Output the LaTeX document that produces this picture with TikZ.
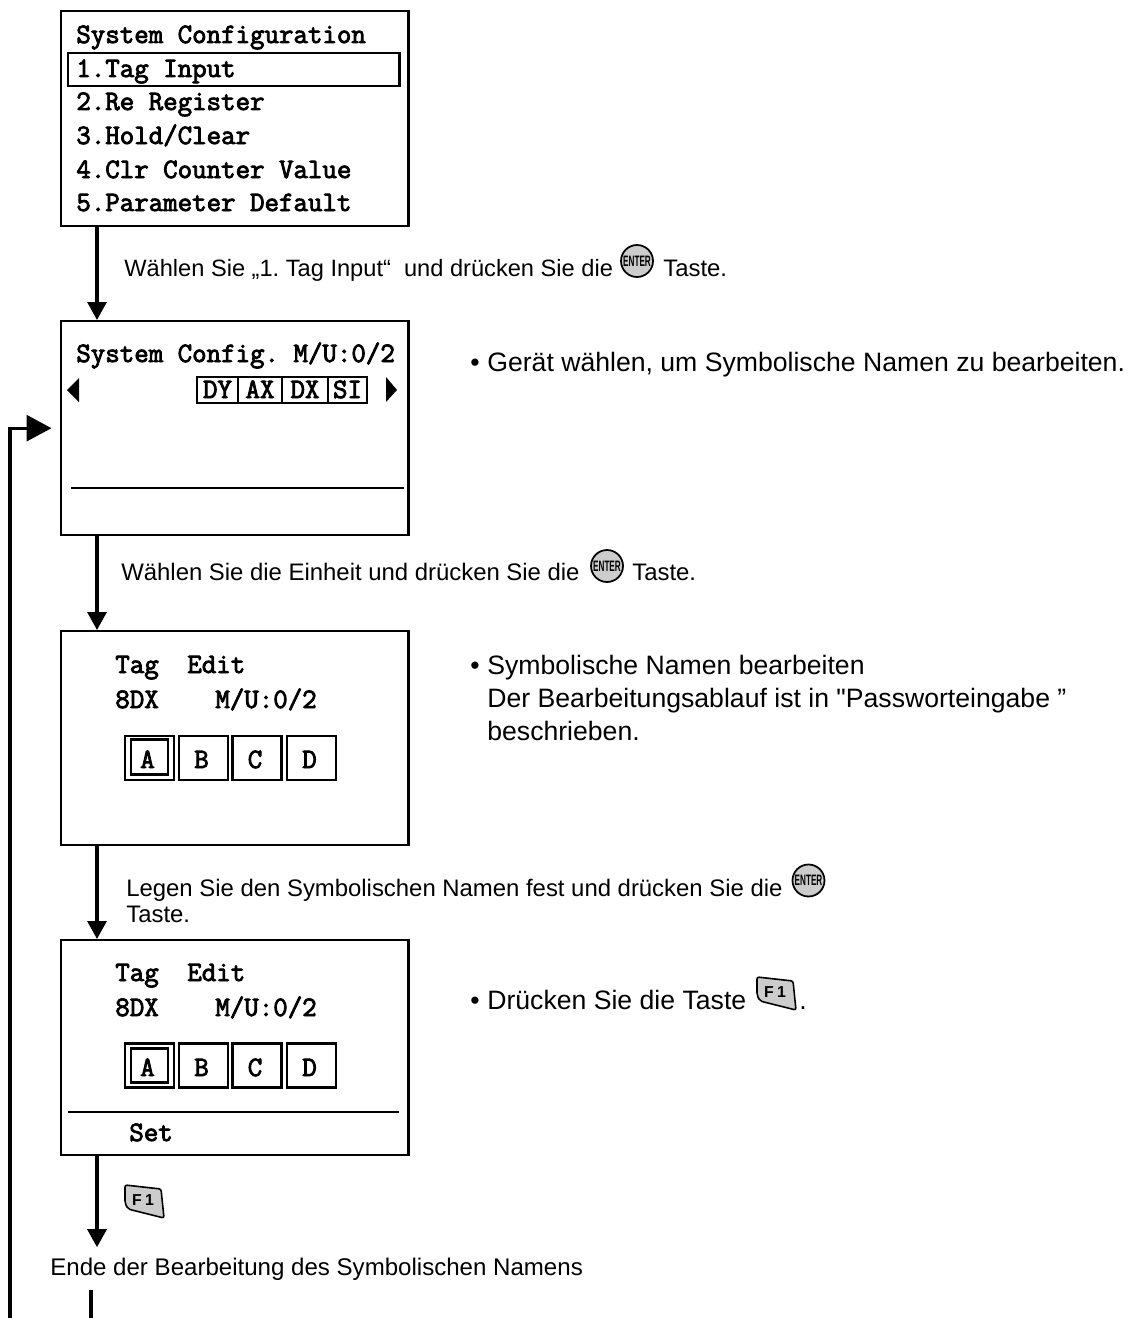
\documentclass[tikz,border=0pt]{standalone}
\usepackage{fontspec}
\setmainfont{Liberation Sans}
\newfontfamily\straightfont{Liberation Sans}
\newfontfamily\lcdfamily{Latin Modern Mono}[FakeBold=3]
\frenchspacing
\usetikzlibrary{positioning,arrows.meta,calc}
\newcommand{\entersign}{\scalebox{0.54}[1]{\fontsize{8.6}{9}\selectfont\bfseries ENTER}}
\newcommand{\lcdfont}{\fontsize{16}{18}\selectfont\lcdfamily}
\tikzset{
  screen/.style={draw,line width=1.35pt,anchor=north west,minimum width=6.96cm,inner sep=0pt},
  lcd/.style={anchor=base west,inner sep=0pt,font=\lcdfont},
  cellchar/.style={inner sep=0pt,font=\lcdfont},
  softkey/.style={draw,line width=1.2pt,minimum width=0.98cm,minimum height=0.88cm,inner sep=0pt},
  tabcell/.style={draw,line width=0.6pt,minimum height=0.52cm,inner sep=0pt},
  divider/.style={line width=1.2pt},
  flow/.style={line width=1.8pt,-{Triangle[length=0.36cm,width=0.38cm]}},
  flowback/.style={line width=1.8pt,-{Triangle[length=0.5cm,width=0.52cm]},shorten >=0.16cm},
  hint/.style={anchor=base west,inner sep=0pt,font=\fontsize{13.6}{15}\selectfont},
  note/.style={anchor=base west,inner sep=0pt,font=\fontsize{15.15}{18.7}\selectfont},
  enterkey/.style={circle,draw,line width=1pt,fill=black!20,inner sep=0pt,minimum size=0.64cm},
  fkey/.pic={
    \draw[line width=0.9pt,rounded corners=1.2pt,fill=black!20] (-19,-16) -- (17,-12) -- (20,17) -- (-16,8) -- (-19,2) -- cycle;
    \node[font=\fontsize{9}{10}\selectfont\bfseries,inner sep=0pt] (-name) at (-1,-1) {F\hspace{2pt}1};
  }
}
\begin{document}
\begin{tikzpicture}[x=0.02cm,y=-0.02cm]
  \useasboundingbox (0,0) rectangle (1130,1318);
  \coordinate (spine) at (97,0);
  % ---------------- first screen ----------------
  \node[screen,minimum height=4.3cm] (menu) at (59.5,10) {};
  \node[draw,line width=1.2pt,anchor=north west,minimum width=6.64cm,minimum height=0.66cm,inner sep=0pt] (menusel) at (66.5,52) {};
  \node[lcd] (menuhead) at (76,43) {System Configuration};
  \node[lcd] (menuone) at (76,77) {1.Tag Input};
  \node[lcd] (menutwo) at (76,110) {2.Re Register};
  \node[lcd] (menuthree) at (76,144) {3.Hold/Clear};
  \node[lcd] (menufour) at (76,178) {4.Clr Counter Value};
  \node[lcd] (menufive) at (76,211) {5.Parameter Default};
  \node[hint,font=\fontsize{13.45}{15}\selectfont] (hintone) at (124,276) {Wählen Sie „1. Tag Input“\ \ und drücken Sie die};
  \node[enterkey] (enterone) at (637,261) {\entersign};
  \node[hint] (tasteone) at (663,276) {Taste.};
  % ---------------- device screen ----------------
  \node[screen,minimum height=4.28cm] (device) at (59.5,320) {};
  \node[lcd] (devicehead) at (76,362) {System Config. M/U:0/2};
  \fill (67,390) -- (79,378) -- (79,402) -- cycle;
  \fill (397,390) -- (386,377) -- (386,402) -- cycle;
  \foreach \xa/\xb/\lab in {197/238/DY, 238/282/AX, 282/328/DX, 328/367/SI}{
    \node[tabcell,minimum width={(\xb-\xa)*0.02cm}] (tab\lab) at ({(\xa+\xb)/2},390) {};
    \node[cellchar,anchor=base] (tabtext\lab) at ({(\xa+\xb)/2},398) {\lab};
  }
  \draw[divider] (71,488) -- (404,488);
  \node[note] (dotone) at (470,371) {•};
  \node[note] (noteone) at (487,371) {Gerät wählen, um Symbolische Namen zu bearbeiten.};
  \node[hint] (hinttwo) at (121,580) {Wählen Sie die Einheit und drücken Sie die};
  \node[enterkey] (entertwo) at (607,566) {\entersign};
  \node[hint] (tastetwo) at (632,580) {Taste.};
  % ---------------- edit screen ----------------
  \node[screen,minimum height=4.28cm] (edit) at (59.5,630) {};
  \node[lcd] (edittag) at (115,673) {Tag};
  \node[lcd] (editword) at (187,673) {Edit};
  \node[lcd] (editunit) at (115,708) {8DX};
  \node[lcd] (editmu) at (215,708) {M/U:0/2};
  \foreach \px/\lab in {149.5/A, 203.5/B, 257/C, 311.5/D}{
    \node[softkey] (key\lab) at (\px,758) {};
    \node[cellchar,anchor=base] (keytext\lab) at (\px-2,768) {\lab};
  }
  \node[draw,line width=1.2pt,minimum width=0.74cm,minimum height=0.7cm,inner sep=0pt] (keyinner) at (149.5,757) {};
  \node[note] (dottwo) at (470,674) {•};
  \node[note,align=left] (notetwo) at (487,740) {Symbolische Namen bearbeiten\\Der Bearbeitungsablauf ist in {\straightfont"}Passworteingabe ”\\beschrieben.};
  \node[hint] (hintthree) at (126,896) {Legen Sie den Symbolischen Namen fest und drücken Sie die};
  \node[enterkey] (enterthree) at (808.5,880.5) {\entersign};
  \node[hint] (tastethree) at (126,922) {Taste.};
  % ---------------- set screen ----------------
  \node[screen,minimum height=4.3cm] (setbox) at (59.5,939) {};
  \node[lcd] (settag) at (115,981) {Tag};
  \node[lcd] (setword) at (187,981) {Edit};
  \node[lcd] (setunit) at (115,1016) {8DX};
  \node[lcd] (setmu) at (215,1016) {M/U:0/2};
  \foreach \px/\lab in {149.5/A, 203.5/B, 257/C, 311.5/D}{
    \node[softkey] (setkey\lab) at (\px,1065.5) {};
    \node[cellchar,anchor=base] (setkeytext\lab) at (\px-2,1076) {\lab};
  }
  \node[draw,line width=1.2pt,minimum width=0.74cm,minimum height=0.68cm,inner sep=0pt] (setinner) at (149.5,1065.5) {};
  \draw[divider] (68,1112) -- (399,1112);
  \node[lcd] (setlabel) at (129,1141) {Set};
  \node[note] (dotthree) at (470,1009) {•};
  \node[note] (notethree) at (487,1009) {Drücken Sie die Taste};
  \pic (fnote) at (776,993) {fkey};
  \node[note] (notedot) at (799,1009) {.};
  \pic (fflow) at (144,1201) {fkey};
  % ---------------- end and connectors ----------------
  \node[hint,font=\fontsize{13.7}{15}\selectfont,inner ysep=0.2cm] (endlabel) at (50,1275) {Ende der Bearbeitung des Symbolischen Namens};
  \coordinate (tailend) at (91,1318);
  \coordinate (backstart) at (10,1318);
  \draw[flow] (menu.south -| spine) -- (device.north -| spine);
  \draw[flow] (device.south -| spine) -- (edit.north -| spine);
  \draw[flow] (edit.south -| spine) -- (setbox.north -| spine);
  \draw[flow] (setbox.south -| spine) -- (endlabel.north -| spine);
  \draw[line width=1.8pt] (endlabel.south -| tailend) -- (tailend);
  \draw[flowback] (backstart) |- (device.west);
\end{tikzpicture}
\end{document}
